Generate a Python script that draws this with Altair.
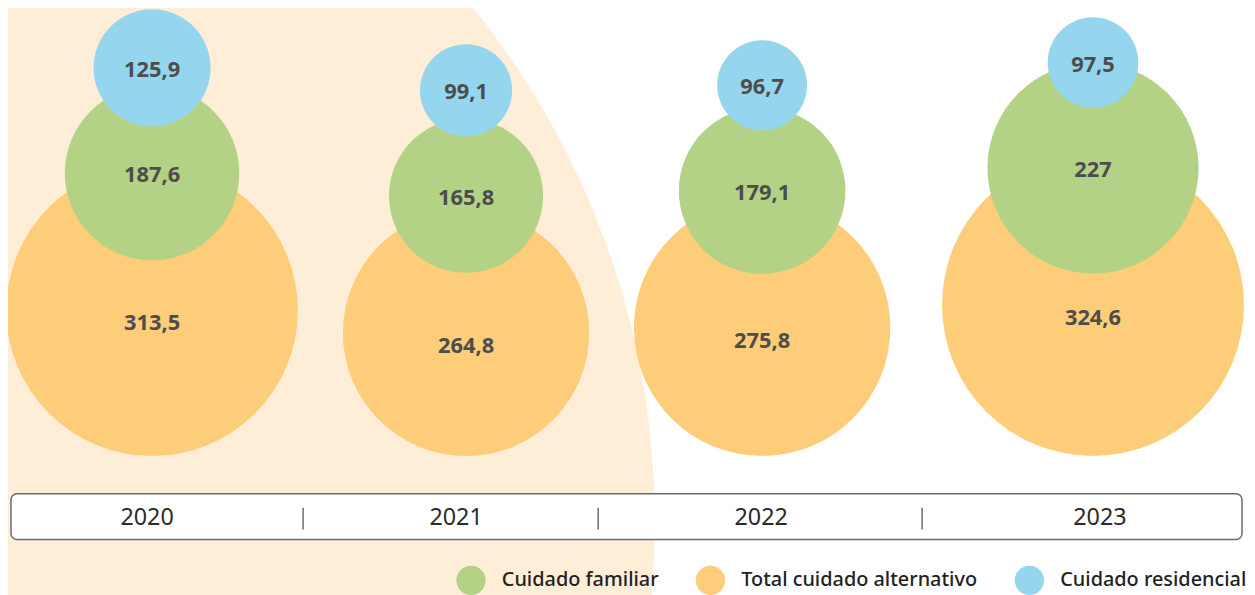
import altair as alt
import pandas as pd

# ---- data ----
years = [2020, 2021, 2022, 2023]
total_alternativo = [313.5, 264.8, 275.8, 324.6]
cuidado_familiar = [187.6, 165.8, 179.1, 227.0]
cuidado_residencial = [125.9, 99.1, 96.7, 97.5]
series_names = ["Cuidado familiar", "Total cuidado alternativo", "Cuidado residencial"]
series_colors = ["#B3D285", "#FDCD7A", "#96D5EE"]

FONT = "Noto Sans"

# ---- layout constants (pixels) ----
K = 0.468          # radius in px per unit of value
BASE = 449         # bottom line of the large circles
GAP_FAM = 138      # vertical offset from total-circle centre to family-circle centre
GAP_RES = 106      # vertical offset from family-circle centre to residential-circle centre


def fmt(v):
    return ("%g" % v).replace(".", ",")


rows = []
for y, t, f, r in zip(years, total_alternativo, cuidado_familiar, cuidado_residencial):
    yc_t = BASE - K * t
    yc_f = yc_t - GAP_FAM
    yc_r = yc_f - GAP_RES
    rows.append(dict(year=y, serie=series_names[1], value=t, yc=yc_t, ylab=yc_t + 13, label=fmt(t), z=0))
    rows.append(dict(year=y, serie=series_names[0], value=f, yc=yc_f, ylab=yc_f + 2, label=fmt(f), z=1))
    rows.append(dict(year=y, serie=series_names[2], value=r, yc=yc_r, ylab=yc_r + 2, label=fmt(r), z=2))
df = pd.DataFrame(rows)
df_years = pd.DataFrame({"year": years, "ytxt": [str(y) for y in years]})

W, H = 1247, 587

xscale = alt.Scale(domain=years, range=[145, 461, 759, 1092])
yscale = alt.Scale(domain=[0, H], range=[0, H], zero=False, nice=False)
size_max = (2 * K * 400) ** 2
sizescale = alt.Scale(type="pow", exponent=2, domain=[0, 400], range=[0, size_max])

# background decorative circle
bg = alt.Chart(pd.DataFrame({"a": [0]})).mark_circle(
    color="#FEEDD7", opacity=1
).encode(
    x=alt.value(-174), y=alt.value(516), size=alt.value(1650 ** 2)
)

box = alt.Chart(pd.DataFrame({"a": [0]})).mark_rect(
    fill="white", stroke="#6b6b6b", strokeWidth=1.5, cornerRadius=6
).encode(
    x=alt.value(3), x2=alt.value(1242), y=alt.value(487), y2=alt.value(533)
)

seps = [
    alt.Chart(pd.DataFrame({"a": [0]})).mark_rule(color="#6b6b6b", strokeWidth=1.5).encode(
        x=alt.value(xv), y=alt.value(501), y2=alt.value(523)
    )
    for xv in (297, 594, 920)
]

year_text = alt.Chart(df_years).mark_text(
    font=FONT, fontSize=23.5, color="#2b2b2b", baseline="middle", align="center"
).encode(
    x=alt.X("year:Q", scale=alt.Scale(domain=years, range=[140, 451, 758, 1099]), axis=None),
    y=alt.value(511),
    text="ytxt:N",
)

bubbles = alt.Chart(df).mark_circle(opacity=1).encode(
    x=alt.X("year:Q", scale=xscale, axis=None),
    y=alt.Y("yc:Q", scale=yscale, axis=None),
    size=alt.Size("value:Q", scale=sizescale, legend=None),
    color=alt.Color(
        "serie:N",
        scale=alt.Scale(domain=series_names, range=series_colors),
        legend=alt.Legend(
            title=None, orient="none", direction="horizontal",
            legendX=451, legendY=559,
            symbolType="circle", symbolSize=870, symbolOpacity=1, symbolStrokeWidth=0,
            labelFont=FONT, labelFontSize=20, labelFontWeight=500, labelColor="#222222",
            labelOffset=16, columnPadding=37, labelLimit=400,
        ),
    ),
    order=alt.Order("z:Q"),
)

bubble_text = alt.Chart(df).mark_text(
    font=FONT, fontSize=22, fontWeight="bold", color="#4d4d4d", baseline="middle", align="center"
).encode(
    x=alt.X("year:Q", scale=xscale, axis=None),
    y=alt.Y("ylab:Q", scale=yscale, axis=None),
    text="label:N",
)

chart = alt.layer(
    bg, box, *seps, year_text, bubbles, bubble_text
).resolve_scale(x="independent").properties(
    width=W, height=H, padding=0, autosize=alt.AutoSizeParams(type="none"), background="white"
).configure_view(strokeWidth=0)

chart.save("out.html", embed_options={"renderer": "svg", "actions": False})
